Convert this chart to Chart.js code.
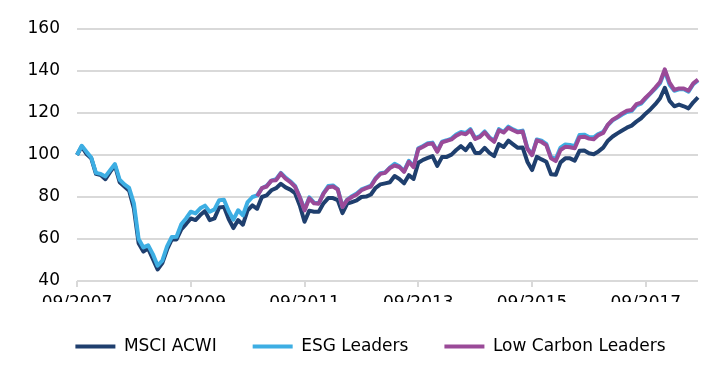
<!DOCTYPE html>
<html>
<head>
<meta charset="utf-8">
<title>MSCI ACWI vs ESG Leaders vs Low Carbon Leaders</title>
<script src="https://cdn.jsdelivr.net/npm/chart.js@4.4.0/dist/chart.umd.min.js"></script>
<style>
    html, body { margin: 0; padding: 0; background: #ffffff; }
    #wrap { width: 724px; height: 374px; position: relative; }
</style>
</head>
<body>
<div id="wrap"><canvas id="indices"></canvas></div>
<script>
    "use strict";

    // Monthly categories 09/2007 .. 08/2018
    var months = [];
    for (var i = 0; i < 132; i++) {
        var m = (8 + i) % 12 + 1;
        var yr = 2007 + Math.floor((8 + i) / 12);
        months.push((m < 10 ? "0" + m : "" + m) + "/" + yr);
    }

    // Labels shown under the x axis
    var xTickLabels = ["09/2007", "09/2009", "09/2011", "09/2013", "09/2015", "09/2017"];
    var yTicks = [40, 60, 80, 100, 120, 140, 160];

    var msciAcwi = [
        100, 104, 100.5, 98.5, 91, 90.5, 88.5, 92, 95, 87, 85, 83,
        74.5, 58, 54, 55.5, 50.5, 45.5, 48.5, 55, 59.8, 59.8, 64.6, 67.1,
        69.8, 69, 71.4, 73.3, 69, 69.8, 75, 75.3, 69.5, 65.2, 69, 66.8,
        73.7, 76, 74.4, 80, 80.8, 83.2, 84.2, 86.3, 84.6, 83.5, 81.8, 76,
        68.2, 73.5, 73, 73, 77, 79.5, 79.5, 78.5, 72.3, 76.8, 77.6, 78.4,
        80, 80.2, 81.2, 84.4, 86, 86.5, 87, 90, 88.6, 86.5, 90.4, 88.6,
        96.3, 97.7, 98.6, 99.5, 94.8, 99, 99.1, 100.2, 102.4, 104.2, 102.3, 105.3,
        101, 101, 103.4, 101, 99.5, 105.2, 103.8, 106.8, 105.1, 103.4, 103.6, 96.8,
        92.8, 99.1, 97.9, 96.8, 90.8, 90.6, 96.5, 98.4, 98.4, 97.3, 102, 102.1,
        100.8, 100.4, 101.7, 103.5, 106.8, 108.8, 110.3, 111.7, 113, 114, 115.9, 117.5,
        119.8, 121.8, 124.2, 127, 132, 125.8, 123.2, 124, 123.2, 122.2, 125.1, 127.4
    ];

    var esgLeaders = [
        100, 104.4, 101.5, 98.8, 91.5, 91, 89.8, 92.8, 95.7, 88.2, 86, 84.3,
        77, 60, 56, 57, 52.8, 47.3, 49.7, 56.5, 61, 61.1, 67, 69.8,
        73, 72.2, 74.6, 75.9, 73, 74.1, 78.5, 78.7, 73.3, 69.2, 73.7, 71.3,
        77.6, 80, 80.8, 84.2, 85.3, 87.8, 88.5, 91.5, 89.2, 87.5, 85.3, 80,
        74, 79.8, 77.3, 77, 81.8, 85.2, 85.5, 83.8, 75.3, 78.8, 80.4, 81.7,
        83.6, 84.5, 85.4, 89, 91.3, 91.7, 94, 95.8, 94.6, 92.4, 97.2, 94.6,
        103.2, 104.3, 105.6, 105.9, 101.8, 106.4, 107, 107.8, 109.8, 111, 110.5, 112.3,
        108, 109, 111.2, 108.4, 106.8, 112.3, 111, 113.5, 112.2, 111.2, 111.6, 103.4,
        100.2, 107.4, 106.8, 105.3, 99, 98.2, 103.5, 105, 104.8, 104.2, 109.5, 109.7,
        108.6, 108.4, 110, 111, 114.3, 116.5, 117.8, 119.3, 120.5, 121, 123.6, 124.5,
        127, 129.3, 131.6, 134.2, 140, 133.5, 130.6, 131.3, 131.3, 130.2, 133.7, 135.5
    ];

    // Low Carbon Leaders only starts in 11/2010
    var lowCarbonLeaders = [
        null, null, null, null, null, null, null, null, null, null, null, null,
        null, null, null, null, null, null, null, null, null, null, null, null,
        null, null, null, null, null, null, null, null, null, null, null, null,
        null, null, 80.4, 84.2, 85, 87.8, 88, 91.2, 88.7, 87.1, 84.9, 79.8,
        73.6, 79.4, 77, 76.8, 81.6, 84.6, 85, 83.6, 75.2, 78.6, 80, 81.2,
        83.2, 84.2, 85, 88.7, 91, 91.5, 93.8, 95, 94.3, 92, 96.8, 94.2,
        102.8, 103.9, 105.2, 105.5, 101.5, 106, 106.7, 107.4, 109.2, 110.4, 109.9, 111.8,
        107.6, 108.6, 110.8, 108.1, 106.3, 111.8, 110.7, 113, 111.8, 110.8, 111.2, 103,
        99.9, 107, 106.2, 104.7, 98.4, 97.1, 102.4, 103.9, 103.7, 103.2, 108.5, 108.7,
        107.8, 107.5, 109.5, 110.5, 114.5, 116.8, 118.1, 119.8, 121.1, 121.4, 124.2, 124.9,
        127.4, 129.6, 132.1, 134.8, 140.8, 134.5, 131, 131.7, 131.7, 130.6, 134.1, 135.9
    ];

    // Global look
    Chart.defaults.font.family = "'DejaVu Sans', Verdana, sans-serif";
    Chart.defaults.font.size = 17;
    Chart.defaults.color = "#000000";

    var gridGrey = "#d9d9d9";

    function serie(label, data, color) {
        return {
            label: label,
            data: data,
            borderColor: color,
            backgroundColor: color,
            borderWidth: 4,
            pointRadius: 0,
            pointHoverRadius: 0,
            tension: 0,
            spanGaps: false,
            borderJoinStyle: "round",
            pointStyle: "line"
        };
    }

    var ctx = document.getElementById("indices").getContext("2d");
    var chart = new Chart(ctx, {
        type: "line",
        data: {
            labels: months,
            // first dataset is drawn on top, so purple goes first
            datasets: [
                serie("Low Carbon Leaders", lowCarbonLeaders, "#9a4a98"),
                serie("ESG Leaders", esgLeaders, "#3daee3"),
                serie("MSCI ACWI", msciAcwi, "#1f3f6e")
            ]
        },
        options: {
            responsive: true,
            maintainAspectRatio: false,
            animation: false,
            events: [],
            layout: {
                padding: { top: 29, left: 17, right: 0, bottom: 9 }
            },
            scales: {
                x: {
                    offset: false,
                    border: { display: false },
                    grid: {
                        drawOnChartArea: false,
                        drawTicks: true,
                        tickLength: 6,
                        lineWidth: 2,
                        color: function (c) {
                            return xTickLabels.indexOf(months[c.index]) >= 0 ? gridGrey : "rgba(0,0,0,0)";
                        }
                    },
                    ticks: {
                        autoSkip: false,
                        maxRotation: 0,
                        minRotation: 0,
                        padding: 6,
                        callback: function (v, idx) {
                            var lab = months[idx];
                            return xTickLabels.indexOf(lab) >= 0 ? lab : "";
                        }
                    },
                    afterFit: function (s) { s.height = 21; }
                },
                y: {
                    min: yTicks[0],
                    max: yTicks[yTicks.length - 1],
                    border: { display: false },
                    grid: { color: gridGrey, lineWidth: 2, drawTicks: false },
                    ticks: { stepSize: 20, padding: 17 },
                    afterFit: function (s) { s.width = 60; }
                },
                // empty right axis to keep the plot off the right edge
                yRight: {
                    position: "right",
                    display: true,
                    border: { display: false },
                    grid: { display: false },
                    ticks: { display: false },
                    afterFit: function (s) { s.width = 26; }
                }
            },
            plugins: {
                tooltip: { enabled: false },
                legend: {
                    position: "bottom",
                    reverse: true,
                    labels: {
                        usePointStyle: true,
                        pointStyleWidth: 40,
                        padding: 36,
                        color: "#000000"
                    }
                }
            }
        }
    });
</script>
</body>
</html>
